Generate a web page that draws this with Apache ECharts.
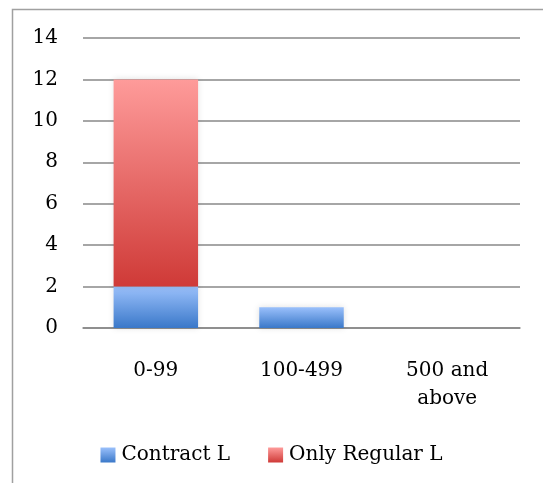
<!DOCTYPE html>
<html>
<head>
<meta charset="utf-8">
<script src="https://cdn.jsdelivr.net/npm/echarts@6/dist/echarts.min.js"></script>
<style>
  html, body { margin: 0; padding: 0; background: #fff; }
  #chart { width: 543px; height: 483px; }
</style>
</head>
<body>
<div id="chart"></div>
<script>
// categories and values
const categories = ['0-99', '100-499', '500 and\nabove']
const contractL = [2, 1, 0]
const onlyRegularL = [10, 0, 0]
const yTicks = { min: 0, max: 14, interval: 2 }

const font = 'DejaVu Serif'

function grad(top, bottom) {
    return new echarts.graphic.LinearGradient(0, 0, 0, 1, [
        { offset: 0, color: top },
        { offset: 1, color: bottom }
    ])
}

const blue = grad('#9ac0fb', '#3a78c9')
const red = grad('#fe9b9a', '#cf3a37')

const chart = echarts.init(document.getElementById('chart'))
const option = {
    animation: false,
    backgroundColor: '#fff',
    graphic: [{
        type: 'rect',
        shape: { x: 12.5, y: 9.5, width: 700, height: 700 },
        style: { fill: 'none', stroke: '#a0a0a0', lineWidth: 1.5 },
        z: -1
    }],
    grid: { left: 83, right: 23, top: 38, bottom: 155 },
    legend: {
        bottom: 13,
        left: 'center',
        itemWidth: 15,
        itemHeight: 15,
        itemGap: 38,
        icon: 'rect',
        textStyle: { fontFamily: font, fontSize: 20, color: '#000', padding: [0, 0, 0, 1] },
        data: ['Contract L', 'Only Regular L']
    },
    xAxis: {
        type: 'category',
        data: categories,
        axisLine: { show: true, lineStyle: { color: '#888', width: 1.5 } },
        axisTick: { show: false },
        axisLabel: { fontFamily: font, fontSize: 20, color: '#000', margin: 29, lineHeight: 28 }
    },
    yAxis: {
        type: 'value',
        min: yTicks.min,
        max: yTicks.max,
        interval: yTicks.interval,
        axisLine: { show: false },
        axisTick: { show: false },
        splitLine: { lineStyle: { color: '#888', width: 1.5 } },
        axisLabel: { fontFamily: font, fontSize: 20, color: '#000', margin: 25 }
    },
    series: [
        {
            name: 'Contract L',
            type: 'bar',
            stack: 'total',
            barWidth: '58%',
            data: contractL,
            itemStyle: { color: blue, shadowColor: 'rgba(0,0,0,0.12)', shadowBlur: 6 }
        },
        {
            name: 'Only Regular L',
            type: 'bar',
            stack: 'total',
            barWidth: '58%',
            data: onlyRegularL,
            itemStyle: { color: red, shadowColor: 'rgba(0,0,0,0.12)', shadowBlur: 6 }
        }
    ]
}
chart.setOption(option)
</script>
</body>
</html>
